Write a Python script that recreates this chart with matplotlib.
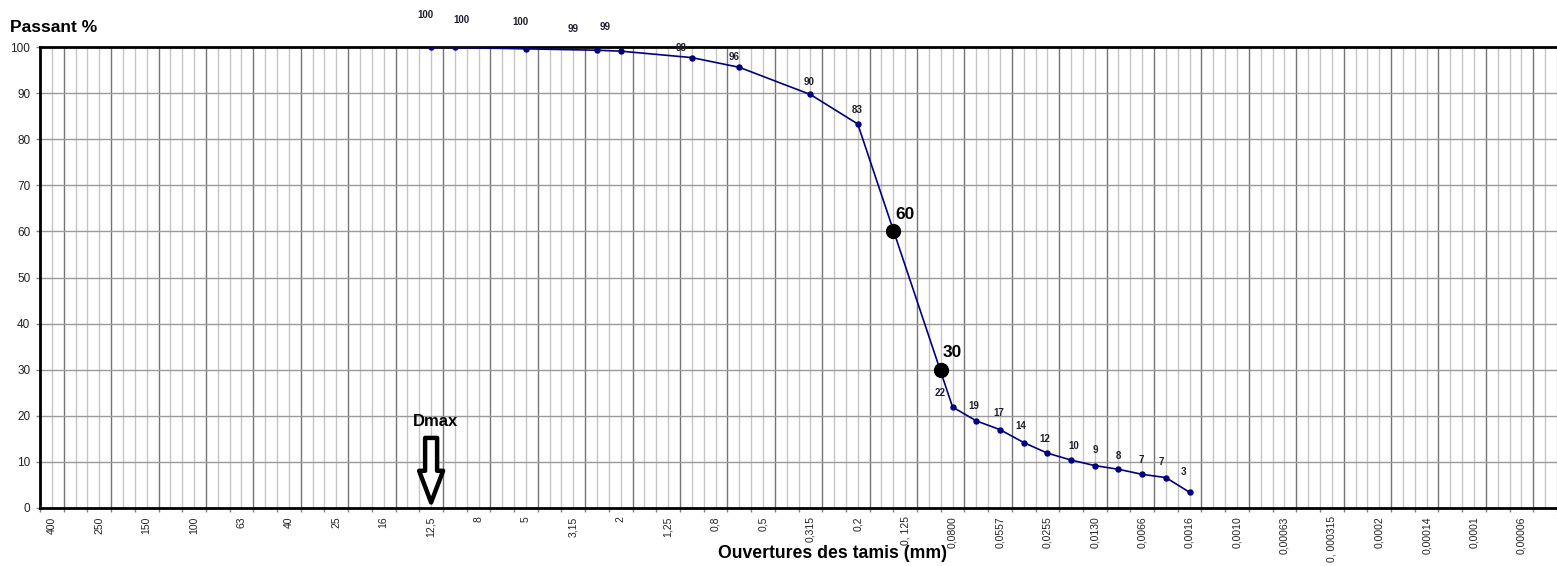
import matplotlib
matplotlib.use("Agg")
import matplotlib.pyplot as plt
import numpy as np

plt.rcParams['font.family'] = ['Liberation Sans', 'DejaVu Sans']

# ---- data ----
sieve_labels = ['400', '250', '150', '100', '63', '40', '25', '16', '12,5', '8',
                '5', '3,15', '2', '1,25', '0,8', '0,5', '0,315', '0,2', '0, 125',
                '0,0800', '0,0557', '0,0255', '0,0130', '0,0066', '0,0016',
                '0,0010', '0,00063', '0, 000315', '0,0002', '0,00014', '0,0001',
                '0,00006']
n_categories = 64
point_cat = [16, 17, 20, 23, 24, 27, 29, 32, 34, 38, 39, 40, 41, 42, 43, 44, 45, 46, 47, 48]
passing = [100.0, 99.9, 99.6, 99.3, 99.1, 97.7, 95.6, 89.7, 83.3,
           21.9, 18.9, 17.0, 14.2, 11.9, 10.4, 9.2, 8.4, 7.3, 6.6, 3.4]
d_cat = [35.5, 37.5]
d_pct = [60, 30]
dmax_cat = 16

# label offsets (pixels) for data labels
lab_dx = [-6, 7, -5, -24, -16, -11, -5, -1, -1, -12, -2, -1, -3, -3, 3, 1, 0, -1, -5, -6]
lab_dy = [32, 27, 27, 21, 24, 10, 10, 12, 14, 14, 15, 17, 17, 14, 14, 16, 13, 14, 16, 20]

W, H = 1557, 566
fig = plt.figure(figsize=(W / 100, H / 100), dpi=100)
ax_l, ax_r, ax_t, ax_b = 40, 1557, 47, 508
ax = fig.add_axes([ax_l / W, 1 - ax_b / H, (ax_r - ax_l) / W, (ax_b - ax_t) / H])

cat_w = 23.81
ax.set_xlim(-0.5, -0.5 + (ax_r - ax_l) / cat_w)
ax.set_ylim(0, 100)

# vertical grid: half-category lines, darker every 2 categories
for m in range(1, 2 * n_categories + 1):
    xv = -0.5 + 0.5 * m
    if (m - 2) % 4 == 0:
        ax.axvline(xv, color='#757575', lw=1.0, zorder=1)
    else:
        ax.axvline(xv, color='#c6c6c6', lw=1.0, zorder=1)
for yv in range(10, 100, 10):
    ax.axhline(yv, color='#9a9a9a', lw=1.0, zorder=1)

# curve
ax.plot(point_cat, passing, color='#000080', lw=1.2, marker='o', ms=3.6,
        mfc='#000080', mec='#000080', zorder=4)

# data labels
for c, v, dx, dy in zip(point_cat, passing, lab_dx, lab_dy):
    ax.annotate(f"{round(v)}", xy=(c, v), xytext=(dx, dy), textcoords='offset pixels',
                ha='center', va='center', fontsize=7, fontweight='bold',
                color='#1e1e2e', annotation_clip=False, zorder=6)

# D60 / D30 markers
ax.plot(d_cat, d_pct, 'o', color='black', ms=10, zorder=5, linestyle='none')
for c, v in zip(d_cat, d_pct):
    ax.annotate(f"{v}", xy=(c, v), xytext=(12, 17), textcoords='offset pixels',
                ha='center', va='center', fontsize=12.5, fontweight='bold',
                color='black', zorder=6)

# Dmax arrow and label
ax.annotate('', xy=(dmax_cat, 1.2), xytext=(dmax_cat, 15.2),
            arrowprops=dict(arrowstyle='simple,head_length=0.95,head_width=0.72,tail_width=0.36',
                            fc='white', ec='black', lw=3.2, mutation_scale=24,
                            shrinkA=0, shrinkB=0), zorder=6)
ax.annotate('Dmax', xy=(dmax_cat, 0), xytext=(4, 87), textcoords='offset pixels',
            ha='center', va='center', fontsize=12, fontweight='bold', color='black')

# spines
for s in ['left', 'top', 'bottom']:
    ax.spines[s].set_linewidth(2.0)
    ax.spines[s].set_color('black')
ax.spines['right'].set_visible(False)

# ticks
ax.set_yticks(range(0, 101, 10))
ax.tick_params(axis='y', length=3, width=1, color='#808080', pad=4, labelsize=8.5,
               labelcolor='#222222')
ax.set_xticks(np.arange(0, 2 * len(sieve_labels), 2))
ax.set_xticklabels(sieve_labels, rotation=90, fontsize=7.5, color='#222222', va='top')
ax.tick_params(axis='x', which='major', length=0, pad=6)
ax.set_xticks(np.arange(-0.5, n_categories, 1), minor=True)
ax.tick_params(axis='x', which='minor', length=3, width=1, color='#808080')

fig.text(10 / W, 1 - 28 / H, 'Passant %', ha='left', va='center',
         fontsize=12.5, fontweight='bold', color='black')
fig.text(832 / W, 1 - 553 / H, 'Ouvertures des tamis (mm)', ha='center', va='center',
         fontsize=12.7, fontweight='bold', color='black')

fig.savefig('out.png', dpi=100)
